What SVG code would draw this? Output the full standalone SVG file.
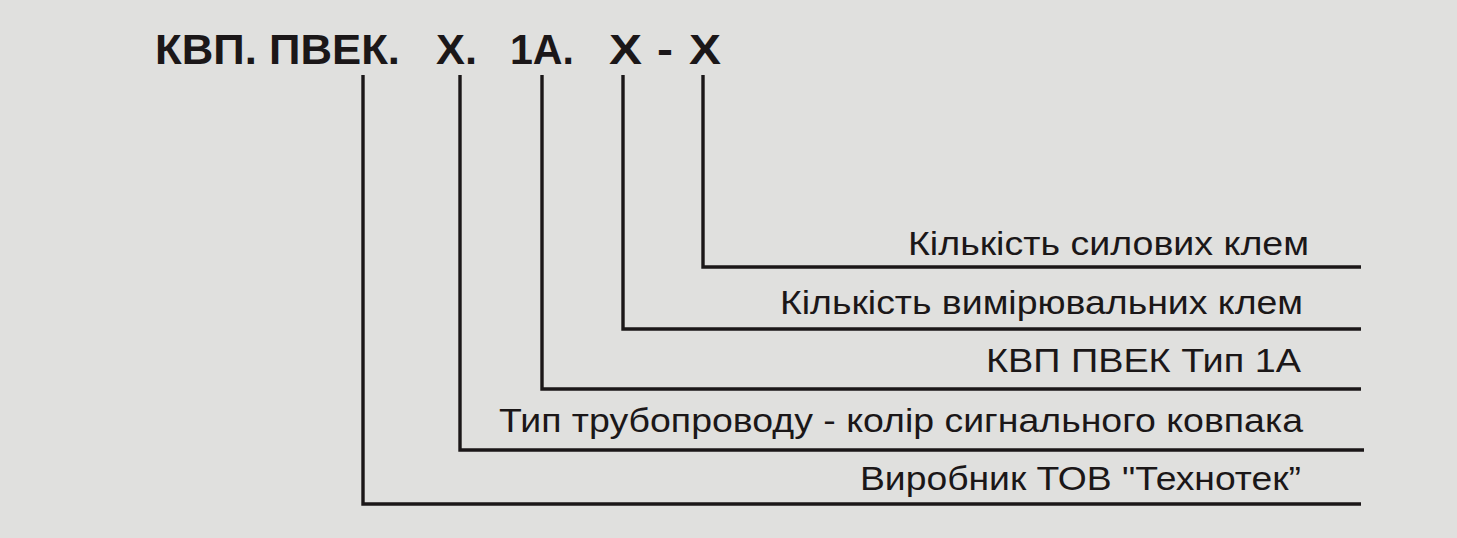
<svg xmlns="http://www.w3.org/2000/svg" width="1457" height="538" viewBox="0 0 1457 538">
<style>
.bg{fill:#e0e0de}
.title{font-family:"Liberation Sans",Arial,sans-serif;font-weight:bold;font-size:43px;fill:#1b1718}
.lbl{font-family:"Liberation Sans",Arial,sans-serif;font-size:34px;fill:#1b1718}
.conn{fill:none;stroke:#1b1718;stroke-width:3.4;stroke-linejoin:miter;stroke-linecap:butt}
</style>
<rect class="bg" x="0" y="0" width="1457" height="538"/>
<g id="title">
<text class="title" x="155" y="64" textLength="245" lengthAdjust="spacingAndGlyphs">КВП. ПВЕК.</text>
<text class="title" x="436" y="64" textLength="41" lengthAdjust="spacingAndGlyphs">Х.</text>
<text class="title" x="510" y="64" textLength="64" lengthAdjust="spacingAndGlyphs">1А.</text>
<text class="title" x="609" y="64" textLength="33" lengthAdjust="spacingAndGlyphs">Х</text>
<text class="title" x="657" y="64" textLength="16" lengthAdjust="spacingAndGlyphs">-</text>
<text class="title" x="689" y="64" textLength="32" lengthAdjust="spacingAndGlyphs">Х</text>
</g>
<g id="connectors">
<polyline class="conn" points="703,75 703,267 1361,267"/>
<polyline class="conn" points="623,75 623,329 1361,329"/>
<polyline class="conn" points="542,75 542,389 1361,389"/>
<polyline class="conn" points="460,75 460,450 1364,450"/>
<polyline class="conn" points="363,75 363,504 1361,504"/>
</g>
<g id="node-power">
<text class="lbl" x="908" y="255" textLength="401" lengthAdjust="spacingAndGlyphs">Кількість силових клем</text>
</g>
<g id="node-measure">
<text class="lbl" x="780" y="314" textLength="523" lengthAdjust="spacingAndGlyphs">Кількість вимірювальних клем</text>
</g>
<g id="node-type">
<text class="lbl" x="986" y="372" textLength="315" lengthAdjust="spacingAndGlyphs">КВП ПВЕК Тип 1А</text>
</g>
<g id="node-pipe">
<text class="lbl" x="499" y="432" textLength="804" lengthAdjust="spacingAndGlyphs">Тип трубопроводу - колір сигнального ковпака</text>
</g>
<g id="node-maker">
<text class="lbl" x="860" y="490" textLength="441" lengthAdjust="spacingAndGlyphs">Виробник ТОВ "Технотек”</text>
</g>
</svg>
